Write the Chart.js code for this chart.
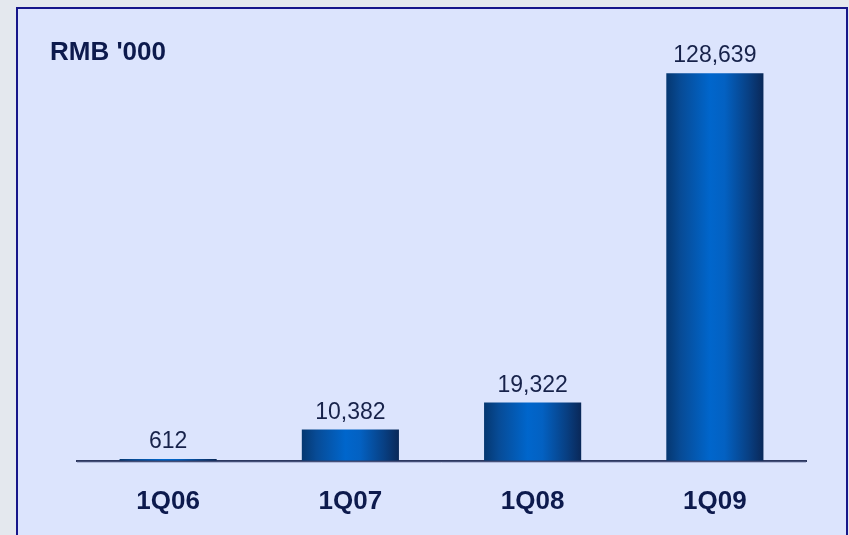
<!DOCTYPE html>
<html>
<head>
<meta charset="utf-8">
<title>Quarterly revenue</title>
<script src="https://cdn.jsdelivr.net/npm/chart.js@4.4.1/dist/chart.umd.min.js"></script>
<style>
  html, body { margin: 0; padding: 0; }
  body { width: 849px; height: 535px; background: #e4e8ee; position: relative; overflow: hidden; }
  .panel {
    position: absolute; left: 16px; top: 7px; width: 828px; height: 540px;
    background: #dce4fd; border: 2px solid #16168a; border-bottom: none;
  }
  #chart { position: absolute; left: 0; top: 0; }
</style>
</head>
<body>
<div class="panel"></div>
<canvas id="chart" width="849" height="535"></canvas>
<script>
const quarters = ['1Q06', '1Q07', '1Q08', '1Q09'];
const revenue = [612, 10382, 19322, 128639];
const unitLabel = "RMB '000";

const FONT = "'Liberation Sans', Arial, sans-serif";
const INK = '#0d1a4d';

// Horizontal "cylinder" shading, rebuilt for each bar from its own x/width
const barShading = {
    id: 'barShading',
    beforeDatasetsDraw(chart) {
        const ctx = chart.ctx;
        chart.getDatasetMeta(0).data.forEach(bar => {
            const left = bar.x - bar.width / 2;
            const g = ctx.createLinearGradient(left, 0, left + bar.width, 0);
            g.addColorStop(0, '#053770');
            g.addColorStop(0.15, '#074b96');
            g.addColorStop(0.45, '#0066cc');
            g.addColorStop(0.6, '#0361c2');
            g.addColorStop(0.85, '#083f82');
            g.addColorStop(1, '#0a2858');
            bar.options.backgroundColor = g;
        });
    }
};

// Value above each bar, the unit caption and the soft line under the axis
const annotations = {
    id: 'annotations',
    afterDatasetsDraw(chart) {
        const ctx = chart.ctx;
        ctx.save();
        ctx.fillStyle = '#17224a';
        ctx.font = '23px ' + FONT;
        ctx.textAlign = 'center';
        ctx.textBaseline = 'alphabetic';
        chart.getDatasetMeta(0).data.forEach((bar, i) => {
            ctx.fillText(revenue[i].toLocaleString('en-US'), bar.x, bar.y - 11);
        });

        ctx.fillStyle = INK;
        ctx.font = 'bold 26px ' + FONT;
        ctx.textAlign = 'left';
        ctx.fillText(unitLabel, 50, 60);

        const area = chart.chartArea;
        ctx.strokeStyle = '#a3acd0';
        ctx.lineWidth = 1;
        ctx.beginPath();
        ctx.moveTo(area.left, area.bottom + 1.5);
        ctx.lineTo(area.right, area.bottom + 1.5);
        ctx.stroke();
        ctx.restore();
    }
};

new Chart(document.getElementById('chart'), {
    type: 'bar',
    data: {
        labels: quarters,
        datasets: [{
            data: revenue,
            // scriptable so every bar keeps its own options object
            backgroundColor: () => '#0066cc',
            borderWidth: 0,
            categoryPercentage: 1,
            barPercentage: 0.533
        }]
    },
    options: {
        responsive: false,
        animation: false,
        layout: {
            padding: { left: 77, right: 43, top: 39, bottom: -7 }
        },
        plugins: {
            legend: { display: false },
            tooltip: { enabled: false }
        },
        scales: {
            y: {
                display: false,
                min: 0,
                max: 140000
            },
            x: {
                grid: { display: false, drawTicks: false },
                border: { display: true, color: '#2c3760', width: 2 },
                ticks: {
                    color: INK,
                    padding: 25,
                    font: { family: FONT, size: 26, weight: 'bold' }
                }
            }
        }
    },
    plugins: [barShading, annotations]
});
</script>
</body>
</html>
